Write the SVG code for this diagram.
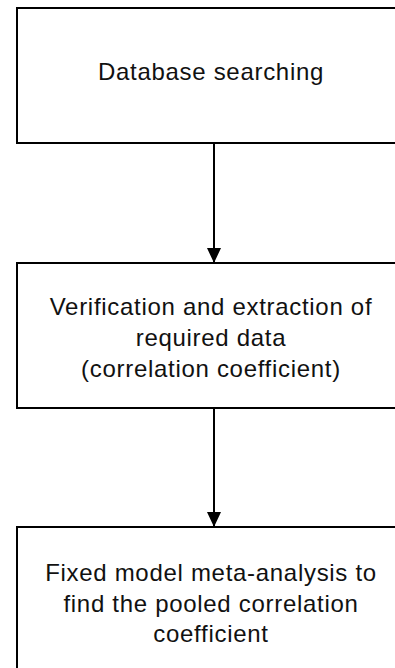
<svg xmlns="http://www.w3.org/2000/svg" width="395" height="668" viewBox="0 0 395 668">
<style>
.box{fill:#fff;stroke:#000;stroke-width:2}
.t{font-family:"Liberation Sans",Arial,sans-serif;font-size:24px;letter-spacing:0.7px;fill:#111;text-anchor:middle}
.c{stroke:#000;stroke-width:2;fill:none}
</style>
<defs>
<marker id="ah" markerWidth="15" markerHeight="14" refX="15" refY="7" orient="auto" markerUnits="userSpaceOnUse" viewBox="0 0 15 14">
<path d="M0,0 L15,7 L0,14 Z" fill="#000"/>
</marker>
</defs>
<rect width="395" height="668" fill="#fff"/>
<g id="n1"><rect class="box" x="17" y="8" width="400" height="135"/><text class="t" x="211" y="80">Database searching</text></g>
<g id="n2"><rect class="box" x="17" y="263" width="400" height="145"/><text class="t" x="211" y="315">Verification and extraction of</text><text class="t" x="211" y="346">required data</text><text class="t" x="211" y="377">(correlation coefficient)</text></g>
<g id="n3"><rect class="box" x="17" y="527" width="400" height="160"/><text class="t" x="211" y="581">Fixed model meta-analysis to</text><text class="t" x="211" y="612">find the pooled correlation</text><text class="t" x="211" y="642">coefficient</text></g>
<g id="connectors">
<path d="M214,143 V263" class="c" marker-end="url(#ah)"/>
<path d="M214,408 V527" class="c" marker-end="url(#ah)"/>
</g>
</svg>
